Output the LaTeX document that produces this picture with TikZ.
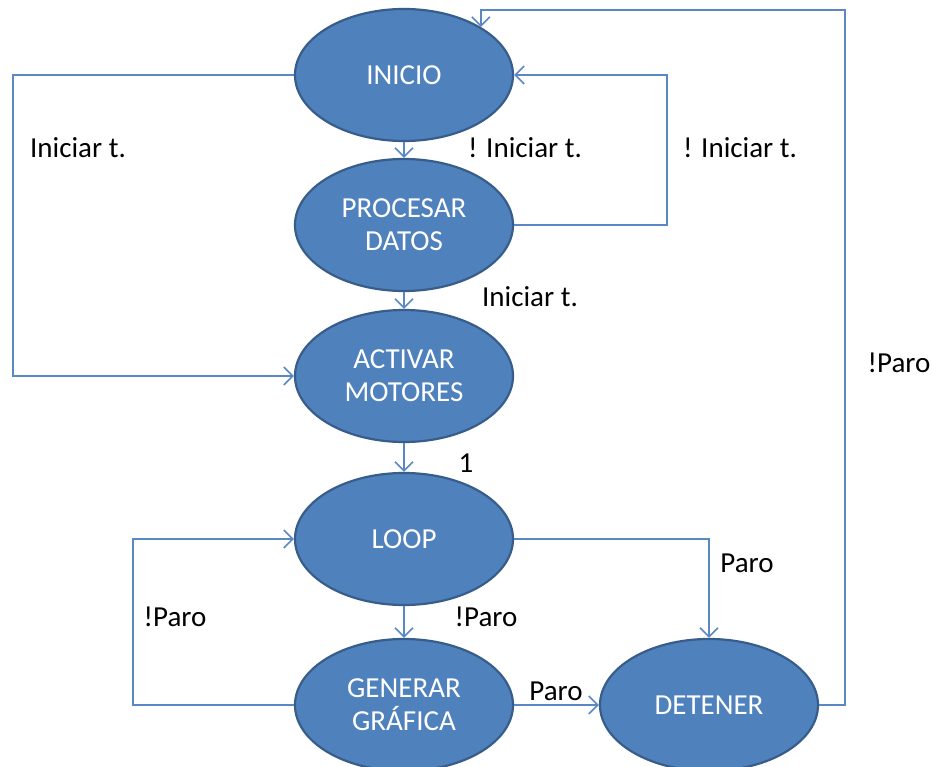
\documentclass[tikz,border=0pt]{standalone}
\usepackage{fontspec}
\setmainfont{Carlito}
\usetikzlibrary{shapes.geometric,arrows.meta}
\definecolor{stfill}{HTML}{4F81BD}
\definecolor{stline}{HTML}{385D8A}
\definecolor{conn}{HTML}{5B87C5}
\tikzset{
  state/.style={ellipse, draw=stline, line width=2.2pt, fill=stfill,
    minimum width=218pt, minimum height=132pt, inner sep=0pt,
    text=white, align=center, font=\fontsize{29}{33}\selectfont},
  lbl/.style={inner sep=0pt, text=black, font=\fontsize{29}{33}\selectfont},
  conline/.style={draw=conn, line width=1.6pt},
  arr/.style={conline, -{Straight Barb[length=9pt,width=18pt,line width=1.6pt]}}
}
\begin{document}
\begin{tikzpicture}[x=1pt,y=-1pt]
\useasboundingbox[fill=white] (0,0) rectangle (932,767);
% states
\node[state] (INI) at (404,75) {INICIO};
\node[state] (PRO) at (404,225) {PROCESAR\\DATOS};
\node[state] (ACT) at (404,376) {ACTIVAR\\MOTORES};
\node[state] (LOO) at (404,539) {LOOP};
\node[state] (GEN) at (404,705) {GENERAR\\GRÁFICA};
\node[state] (DET) at (709,705) {DETENER};
% connectors
\draw[arr] (INI) -- (PRO);
\draw[arr] (PRO) -- (ACT);
\draw[arr] (ACT) -- (LOO);
\draw[arr] (LOO) -- (GEN);
\draw[arr] (INI.west) -- (13,75) -- (13,376) -- (ACT.west);
\draw[arr] (PRO.east) -- (667,225) -- (667,75) -- (INI.east);
\draw[arr] (LOO.east) -| (DET.north);
\draw[arr] (GEN.west) -- (133,705) -- (133,539) -- (LOO.west);
\draw[arr] (GEN.east) -- (DET.west);
\draw[arr] (DET.east) -- (845,705) -- (845,10) -| (INI.32.1);
% labels
\node[lbl] (l1) at (78,148) {Iniciar t.};
\node[lbl] (l2) at (525,148) {! Iniciar t.};
\node[lbl] (l3) at (740,148) {! Iniciar t.};
\node[lbl] (l4) at (530,297) {Iniciar t.};
\node[lbl] (l5) at (899,363) {!Paro};
\node[lbl] (l6) at (466,463) {1};
\node[lbl] (l7) at (747,563) {Paro};
\node[lbl] (l8) at (175,617) {!Paro};
\node[lbl] (l9) at (486,617) {!Paro};
\node[lbl] (l10) at (556,691) {Paro};
\end{tikzpicture}
\end{document}
